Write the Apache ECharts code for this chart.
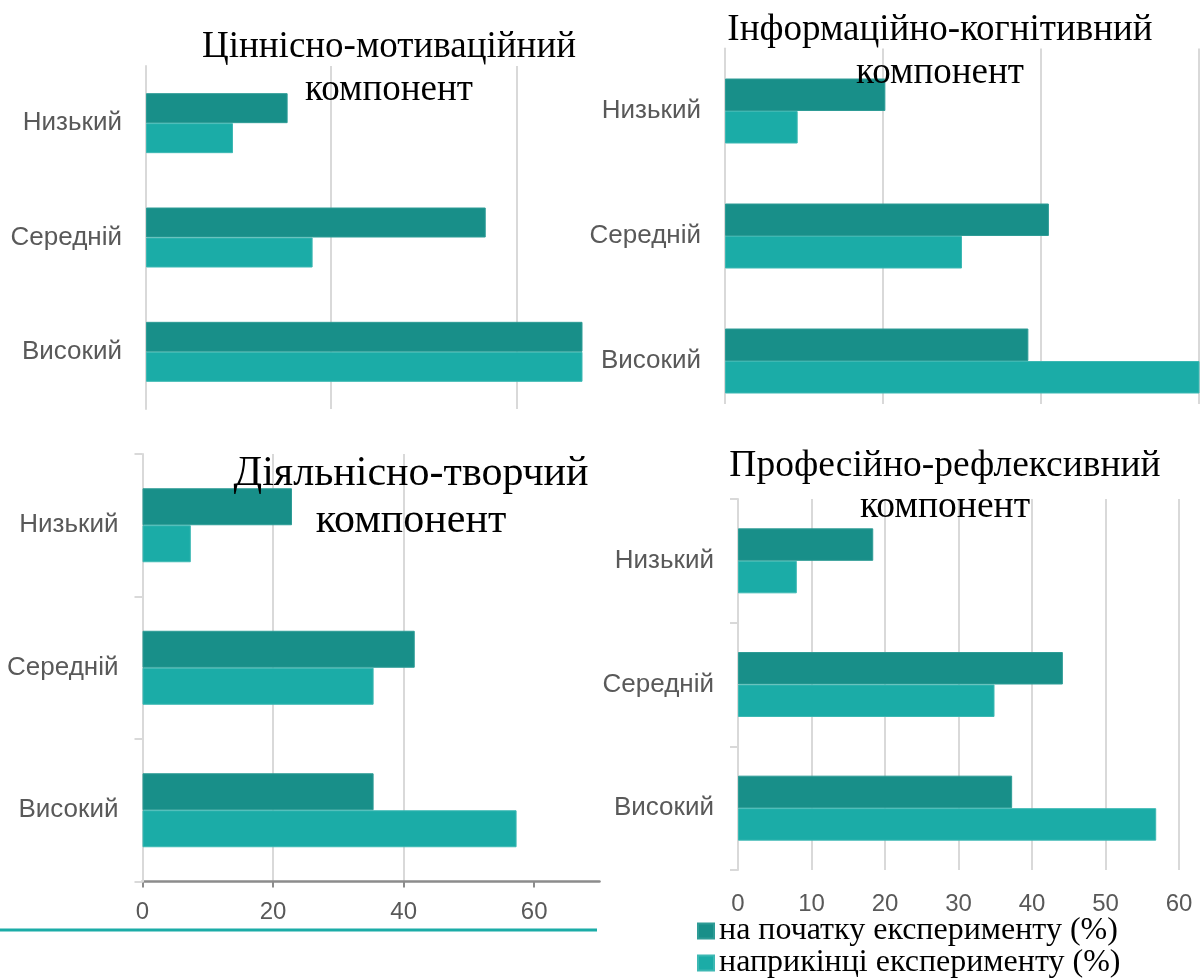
<!DOCTYPE html>
<html><head><meta charset="utf-8">
<script src="https://cdn.jsdelivr.net/npm/echarts@6/dist/echarts.min.js"></script>
<style>html,body{margin:0;padding:0;background:#fff}#c{width:1200px;height:980px}</style>
</head><body><div id="c"></div>
<script>
const categories = ['Низький', 'Середній', 'Високий'];
const seriesNames = ['на початку експерименту (%)', 'наприкінці експерименту (%)'];
const panelTitles = [
  'Ціннісно-мотиваційний\nкомпонент',
  'Інформаційно-когнітивний\nкомпонент',
  'Діяльнісно-творчий\nкомпонент',
  'Професійно-рефлексивний\nкомпонент'
];
const motivStart = [15.3, 36.7, 48.0];
const motivEnd = [9.4, 18.0, 72.6];
const infoStart = [20.3, 41.0, 38.4];
const infoEnd = [9.2, 30.0, 60.8];
const actStart = [22.9, 41.7, 35.4];
const actEnd = [7.4, 35.4, 57.3];
const profStart = [18.4, 44.2, 37.3];
const profEnd = [8.0, 34.9, 56.9];
const ticksActivity = [0, 20, 40, 60];
const ticksProfessional = [0, 10, 20, 30, 40, 50, 60];

const DARK = '#188F89', LIGHT = '#1BACA7';
const GRID_C = '#D9D9D9', LABEL_C = '#595959';
const SANS = "'Liberation Sans', Arial, sans-serif";
const SERIF = "'Liberation Serif', 'Times New Roman', serif";

const panels = [
  { grid: {left: 146, top: 66, width: 436, height: 343}, max: 47.1, interval: 20, barWidth: 30,
    data: [motivStart, motivEnd], title: {x: 389, y: 26, size: 37, lh: 43}, yTicks: false, xLabels: null, xLine: false, maxLine: false, xMargin: 18 },
  { grid: {left: 725, top: 48.5, width: 474, height: 375}, max: 60, interval: 20, barWidth: 32.5,
    data: [infoStart, infoEnd], title: {x: 940, y: 9, size: 37, lh: 43}, yTicks: false, xLabels: null, xLine: false, maxLine: true, xMargin: 18 },
  { grid: {left: 142.5, top: 454, width: 457, height: 427.5}, max: 70, interval: 20, barWidth: 37,
    data: [actStart, actEnd], title: {x: 411, y: 450, size: 42, lh: 47}, yTicks: true, xLabels: ticksActivity, xLine: true, maxLine: false, xMargin: 19 },
  { grid: {left: 738, top: 499, width: 441, height: 371}, max: 60, interval: 10, barWidth: 32.5,
    data: [profStart, profEnd], title: {x: 945, y: 446, size: 37.5, lh: 41}, yTicks: true, xLabels: ticksProfessional, xLine: false, maxLine: true, xMargin: 22 }
];

const option = {
  animation: false,
  backgroundColor: '#fff',
  title: panels.map((p, i) => ({
    text: panelTitles[i], left: p.title.x, top: p.title.y, textAlign: 'center', padding: 0,
    textStyle: {fontFamily: SERIF, fontSize: p.title.size, fontWeight: 'normal', color: '#000', lineHeight: p.title.lh}
  })),
  legend: {
    orient: 'vertical', left: 697, top: 915, height: 120, width: 500, itemWidth: 16, itemHeight: 15, itemGap: 0,
    icon: 'rect', data: seriesNames, padding: 0,
    textStyle: {fontFamily: SERIF, fontSize: 32, color: '#000', lineHeight: 31}
  },
  grid: panels.map(p => Object.assign({containLabel: false}, p.grid)),
  xAxis: panels.map((p, i) => ({
    type: 'value', gridIndex: i, min: 0, max: p.max, interval: p.interval,
    splitLine: {show: true, showMaxLine: p.maxLine, lineStyle: {color: GRID_C, width: 2}},
    axisLine: {show: p.xLine, lineStyle: {color: '#8C8C8C', width: 2.5}},
    axisTick: p.xLine ? {show: true, length: 6, customValues: p.xLabels, lineStyle: {color: '#8C8C8C', width: 2}} : {show: false},
    axisLabel: p.xLabels ? {show: true, customValues: p.xLabels, showMaxLabel: true, fontSize: 24, color: LABEL_C, fontFamily: SANS, margin: p.xMargin} : {show: false}
  })),
  yAxis: panels.map((p, i) => ({
    type: 'category', gridIndex: i, data: categories, inverse: true,
    axisLine: {show: true, lineStyle: {color: GRID_C, width: 2}},
    axisTick: {show: p.yTicks, length: 8, lineStyle: {color: GRID_C, width: 2}},
    axisLabel: {fontSize: 26, color: LABEL_C, fontFamily: SANS, margin: 24},
    z: 1
  })),
  series: panels.flatMap((p, i) => [0, 1].map(k => ({
    type: 'bar', name: seriesNames[k], xAxisIndex: i, yAxisIndex: i,
    data: p.data[k], barWidth: p.barWidth, barGap: '0%', clip: true,
    itemStyle: {color: k === 0 ? DARK : LIGHT, borderColor: k === 0 ? '#2E9C96' : '#3DB8B3', borderWidth: 1},
    z: 2
  }))),
  graphic: [
    {type: 'rect', shape: {x: 600, y: 404, width: 600, height: 30}, style: {fill: '#fff'}, z: 50},
    {type: 'line', shape: {x1: 0, y1: 930, x2: 597, y2: 930}, style: {stroke: '#1BACA7', lineWidth: 3}, z: 50}
  ],
  color: [DARK, LIGHT]
};

const chart = echarts.init(document.getElementById('c'), null, {renderer: 'canvas'});
chart.setOption(option);
</script></body></html>
